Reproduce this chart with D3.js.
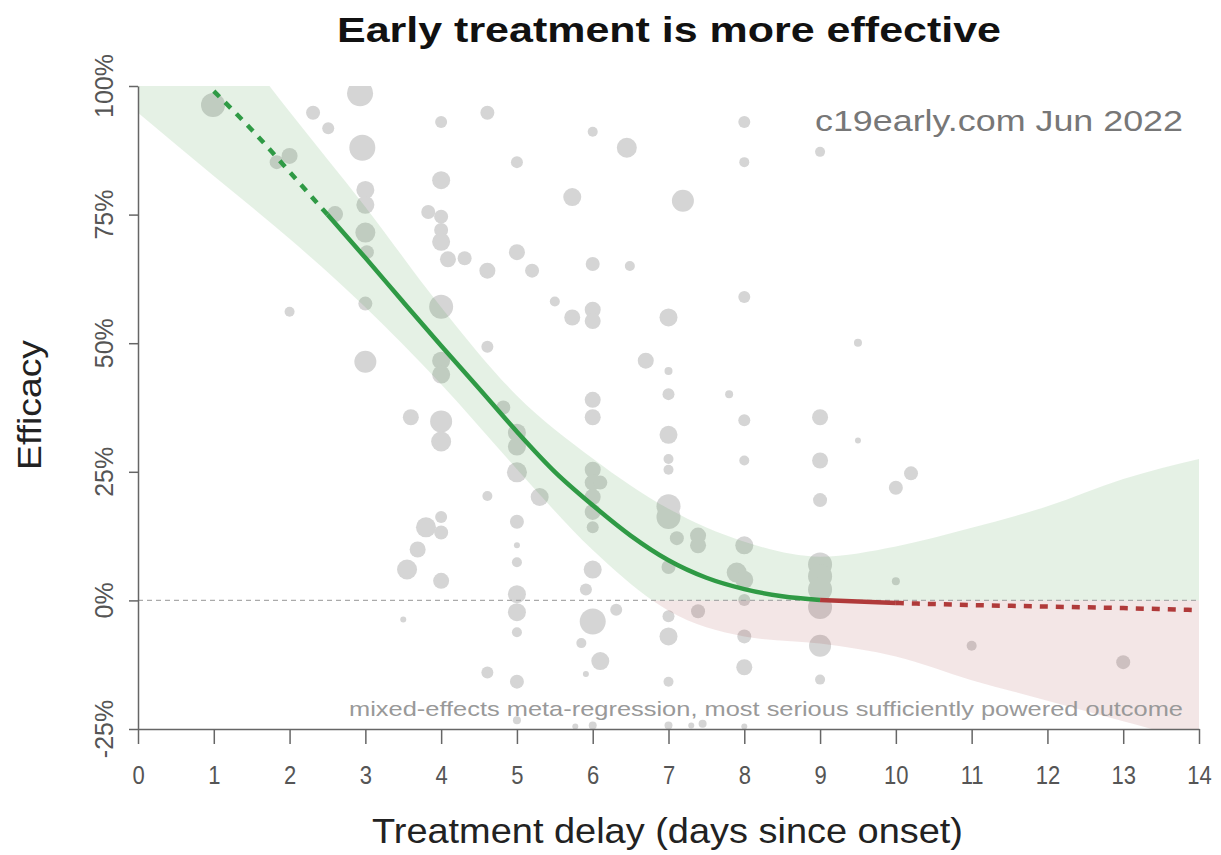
<!DOCTYPE html>
<html><head><meta charset="utf-8">
<script src="https://cdn.jsdelivr.net/npm/d3@7"></script>
<style>body{margin:0;background:#fff}svg{display:block}text{font-family:"Liberation Sans",Arial,Helvetica,sans-serif}</style>
</head><body><svg id="c" width="1221" height="855"></svg>
<script>
// ---- data ----
const xTicks = [0,1,2,3,4,5,6,7,8,9,10,11,12,13,14];
const yTicks = [-25,0,25,50,75,100];
const yTickLabels = ["-25%","0%","25%","50%","75%","100%"];

// study points: delay (days), efficacy (%), relative weight
const studyDelay = [0.99,2.0,1.83,2.31,2.51,2.6,2.93,2.96,3.0,3.0,3.0,3.02,3.0,2.0,3.0,4.0,4.61,5.0,4.0,3.83,4.0,4.0,4.0,4.09,4.31,4.61,5.0,5.2,4.0,4.61,4.0,4.0,5.73,6.0,6.45,7.19,8.0,8.0,6.0,6.49,8.0,5.5,5.73,6.0,6.0,7.0,6.7,7.0,9.0,9.5,7.0,7.8,8.0,6.0,6.0,7.0,9.5,7.0,7.0,8.0,9.0,9.0,9.0,3.6,4.0,4.0,4.82,5.0,5.0,5.0,4.61,5.3,4.0,3.8,4.0,5.0,3.69,5.0,5.0,3.55,4.0,5.0,5.0,3.5,5.0,4.61,5.0,5.0,6.0,6.0,6.1,6.0,6.0,6.0,7.0,7.0,7.11,7.39,7.39,7.0,8.0,7.9,8.0,9.0,9.0,9.0,9.0,9.0,9.0,6.0,5.91,6.31,6.0,7.0,7.39,8.0,7.0,8.0,5.85,6.1,8.0,5.91,7.0,10.0,10.2,10.0,11.0,13.0,5.77,6.0,7.0,7.3,7.45,8.0];
const studyEfficacy = [96.3,86.4,85.2,94.8,91.8,75.1,98.6,88.0,79.8,76.9,71.5,67.7,57.7,56.1,46.4,93.0,94.8,85.2,81.7,75.5,74.6,72.0,69.7,66.3,66.5,64.1,67.7,64.1,57.1,49.3,46.6,43.9,78.4,91.1,88.0,77.7,93.0,85.2,65.4,65.0,59.0,58.1,55.0,56.5,54.3,55.0,46.6,44.6,87.2,50.1,40.1,40.1,35.0,39.0,35.6,32.2,31.1,27.5,25.4,27.2,35.6,27.2,19.5,35.6,34.8,30.9,37.5,32.6,29.9,24.9,20.3,20.1,16.2,14.2,13.2,15.3,9.9,10.7,7.4,6.0,3.8,1.2,-2.3,-3.7,-6.2,-14.0,-15.8,-23.3,25.4,22.9,22.9,20.1,17.2,14.2,18.3,16.2,12.1,12.6,10.7,6.5,10.7,5.4,4.0,7.0,4.7,2.1,-1.3,-8.8,-15.4,6.0,2.1,-1.8,-4.1,-3.1,-2.1,0.1,-7.0,-7.0,-8.3,-11.8,-13.0,-14.3,-15.8,21.9,24.7,3.7,-8.8,-12.0,-24.5,-24.3,-24.3,-24.3,-24.0,-24.5];
const studyWeight = [14.4,6.4,4.9,4.9,3.6,6.4,16.9,16.9,8.1,8.1,10,4.9,4.9,2.5,12.1,3.6,4.9,3.6,8.1,4.9,4.9,4.9,8.1,6.4,4.9,6.4,6.4,4.9,14.4,3.6,8.1,8.1,8.1,2.5,10,12.1,3.6,2.5,4.9,2.5,3.6,2.5,6.4,6.4,6.4,8.1,6.4,1.6,2.5,1.6,3.6,1.6,3.6,6.4,6.4,8.1,0.9,2.5,2.5,2.5,6.4,6.4,4.9,6.4,12.1,10,4.9,8.1,8.1,10,2.5,8.1,3.6,10,4.9,4.9,6.4,0.9,2.5,10,6.4,8.1,8.1,0.9,2.5,3.6,4.9,1.6,6.4,6.4,4.9,6.4,6.4,3.6,14.4,14.4,4.9,6.4,6.4,4.9,8.1,10,8.1,14.4,14.4,14.4,14.4,12.1,2.5,8.1,3.6,3.6,16.9,3.6,4.9,3.6,8.1,4.9,2.5,8.1,6.4,0.9,2.5,4.9,4.9,1.6,2.5,4.9,0.9,1.6,1.6,0.9,1.6,0.9];

// regression fit (efficacy %) and confidence band
const fitDelay    = [1,1.5,2,2.5,3,3.5,4,4.5,5,5.5,6,6.5,7,7.5,8,8.5,9,10,11,12,13,14];
const fitEfficacy = [99,91.5,83.3,75,66.6,58,49.5,41.2,32.8,25,18.5,12.6,7.8,4.4,2.2,0.8,0.1,-0.5,-0.9,-1.2,-1.5,-1.9];
const bandDelay = [0,1,2,3,4,5,6,7,8,9,10,11,12,13,14];
const bandUpper = [133,114,95,76.5,57,39.8,27.6,17.8,11.4,8.5,10.5,14.1,18.3,23.6,27.5];
const bandLower = [94.8,82.5,70.3,57,42,25.5,9.8,-2.0,-7.0,-8.4,-10.9,-15.5,-19.5,-23.5,-27.5];
const fitSolidStart = 2.5, fitZeroCross = 9, fitSolidEnd = 10;

const titleText = "Early treatment is more effective";
const xLabel = "Treatment delay (days since onset)";
const yLabel = "Efficacy";
const sourceText = "c19early.com Jun 2022";
const noteText = "mixed-effects meta-regression, most serious sufficiently powered outcome";

// ---- chart ----
const svg = d3.select("#c");
const L = 138, R = 1199, T = 86, B = 729;
const x = d3.scaleLinear().domain([0,14]).range([L,R]);
const y = d3.scaleLinear().domain([-25,100]).range([B,T]);
const rScale = d3.scaleSqrt().domain([0,16.9]).range([0,13]);

const defs = svg.append("defs");
defs.append("clipPath").attr("id","plot").append("rect").attr("x",L).attr("y",T).attr("width",R-L).attr("height",B-T);
defs.append("clipPath").attr("id","pos").append("rect").attr("x",L).attr("y",T).attr("width",R-L).attr("height",y(0)-T);
defs.append("clipPath").attr("id","neg").append("rect").attr("x",L).attr("y",y(0)).attr("width",R-L).attr("height",B-y(0));

const plot = svg.append("g").attr("clip-path","url(#plot)");

// points
const pts = studyDelay.map((d,i)=>({d, e:studyEfficacy[i], w:studyWeight[i]}));
plot.append("g").selectAll("circle").data(pts).join("circle")
  .attr("cx",p=>x(p.d)).attr("cy",p=>y(p.e)).attr("r",p=>rScale(p.w))
  .attr("fill","#d5d5d5");

// band
const band = bandDelay.map((d,i)=>({d, hi:bandUpper[i], lo:bandLower[i]}));
const area = d3.area().x(b=>x(b.d)).y0(b=>y(b.lo)).y1(b=>y(b.hi)).curve(d3.curveMonotoneX);
plot.append("g").attr("clip-path","url(#pos)").append("path").attr("d",area(band)).attr("fill","rgba(40,140,40,0.12)");
plot.append("g").attr("clip-path","url(#neg)").append("path").attr("d",area(band)).attr("fill","rgba(150,30,30,0.11)");

// zero line
plot.append("line").attr("x1",L).attr("x2",R).attr("y1",y(0)).attr("y2",y(0))
  .attr("stroke","#aaa").attr("stroke-width",1.2).attr("stroke-dasharray","5,4");

// fit line
const fit = fitDelay.map((d,i)=>({d, e:fitEfficacy[i]}));
const line = d3.line().x(p=>x(p.d)).y(p=>y(p.e)).curve(d3.curveMonotoneX);
const seg = (a,b)=>fit.filter(p=>p.d>=a && p.d<=b);
const green = "#2f9a45", red = "#b03a3a";
plot.append("path").attr("d",line(seg(1,fitSolidStart))).attr("fill","none").attr("stroke",green).attr("stroke-width",4.5).attr("stroke-dasharray","8,8");
plot.append("path").attr("d",line(seg(fitSolidStart,fitZeroCross))).attr("fill","none").attr("stroke",green).attr("stroke-width",4.5);
plot.append("path").attr("d",line(seg(fitZeroCross,fitSolidEnd))).attr("fill","none").attr("stroke",red).attr("stroke-width",4.5);
plot.append("path").attr("d",line(seg(fitSolidEnd,14))).attr("fill","none").attr("stroke",red).attr("stroke-width",4.5).attr("stroke-dasharray","8,8");

// axes
const xAxis = svg.append("g").attr("transform",`translate(0,${B})`)
  .call(d3.axisBottom(x).tickValues(xTicks).tickSize(15).tickSizeOuter(0).tickPadding(22).tickFormat(d3.format("d")));
xAxis.selectAll("text").attr("font-size",25).attr("fill","#555").attr("font-family",null)
  .attr("transform","scale(0.88,1)");
xAxis.selectAll("line,path").attr("stroke","#666").attr("stroke-width",1.5);

const yAxis = svg.append("g").attr("transform",`translate(${L},0)`)
  .call(d3.axisLeft(y).tickValues(yTicks).tickSize(9).tickSizeOuter(0).tickFormat(""));
yAxis.selectAll("line,path").attr("stroke","#666").attr("stroke-width",1.5);
svg.append("g").selectAll("text").data(yTicks).join("text")
  .attr("transform",(v)=>`translate(104,${y(v)}) rotate(-90)`)
  .attr("text-anchor","middle").attr("dy","0.35em")
  .attr("font-size",25).attr("fill","#555")
  .text((v,i)=>yTickLabels[i]);

// texts
svg.append("text").attr("x",337).attr("y",42).attr("font-size",35).attr("font-weight","bold").attr("fill","#111")
  .attr("textLength",664).attr("lengthAdjust","spacingAndGlyphs").text(titleText);
svg.append("text").attr("x",815).attr("y",131).attr("font-size",29).attr("fill","#777")
  .attr("textLength",368).attr("lengthAdjust","spacingAndGlyphs").text(sourceText);
svg.append("text").attr("x",349).attr("y",716).attr("font-size",21).attr("fill","#999")
  .attr("textLength",834).attr("lengthAdjust","spacingAndGlyphs").text(noteText);
svg.append("text").attr("x",372).attr("y",843).attr("font-size",35).attr("fill","#222")
  .attr("textLength",591).attr("lengthAdjust","spacingAndGlyphs").text(xLabel);
svg.append("text").attr("transform","translate(41,470) rotate(-90)").attr("font-size",33).attr("fill","#222")
  .attr("textLength",130).attr("lengthAdjust","spacingAndGlyphs").text(yLabel);
</script></body></html>
